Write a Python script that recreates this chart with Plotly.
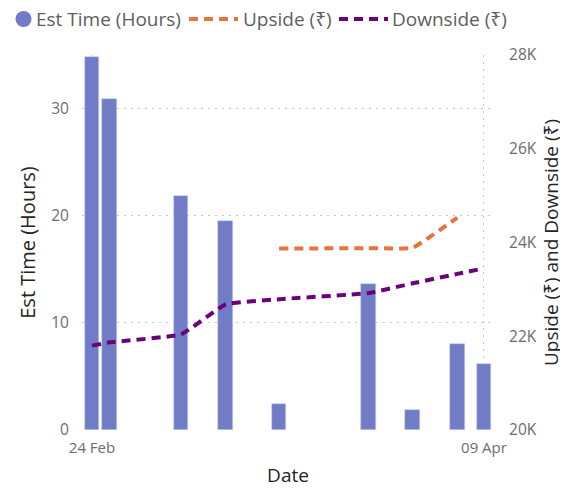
import plotly.graph_objects as go

dates = ["2023-02-24", "2023-02-26", "2023-03-06", "2023-03-11", "2023-03-17",
         "2023-03-27", "2023-04-01", "2023-04-06", "2023-04-09"]
est_hours = [34.8, 30.9, 21.8, 19.5, 2.4, 13.6, 1.9, 8.0, 6.2]

upside_dates = ["2023-03-17", "2023-03-27", "2023-04-01", "2023-04-06"]
upside = [23870, 23880, 23890, 24530]

downside = [21800, 21870, 22040, 22680, 22790, 22920, 23130, 23330, 23450]

x_tick_vals = ["2023-02-24", "2023-04-09"]
x_tick_text = ["24 Feb", "09 Apr"]
y_tick_vals = [0, 10, 20, 30]
y2_tick_vals = [20000, 22000, 24000, 26000, 28000]
y2_tick_text = ["20K", "22K", "24K", "26K", "28K"]

series_names = ["Est Time (Hours)", "Upside (₹)", "Downside (₹)"]

BAR = "#717CC6"
ORANGE = "#E8733B"
PURPLE = "#6B007B"
FONT = "Segoe UI, Open Sans, Noto Sans, sans-serif"
TICK = "#6E6C6A"
LEG = "#605E5C"
TITLE = "#252423"
GRID = "#C8C6C4"
DOT = "2px,5px"
LDASH = "9px,6px"
CLEAR = "rgba(0,0,0,0)"

W, H = 560, 489
ML, MR, MT, MB = 74, 74, 47, 67
PW, PH = W - ML - MR, H - MT - MB


def px(fx):
    return (fx - ML) / PW


def py(fy):
    return (H - MB - fy) / PH


fig = go.Figure()
fig.add_trace(go.Bar(x=dates, y=est_hours, marker=dict(color=BAR, line=dict(color="#C9CDEA", width=0.6)),
                     width=1.65 * 86400000, name=series_names[0]))
fig.add_trace(go.Scatter(x=upside_dates, y=upside, mode="lines", name=series_names[1], yaxis="y2",
                         line=dict(color=ORANGE, width=4, dash=LDASH, shape="spline", smoothing=0.3)))
fig.add_trace(go.Scatter(x=dates, y=downside, mode="lines", name=series_names[2], yaxis="y2",
                         line=dict(color=PURPLE, width=4, dash=LDASH, shape="spline", smoothing=0.3)))

# custom single-row legend, as in the reference
LY = 11
shapes = [
    dict(type="circle", xref="paper", yref="paper", x0=px(7.5), x1=px(23.5), y0=py(LY + 8), y1=py(LY - 8),
         fillcolor=BAR, line=dict(width=0)),
    dict(type="line", xref="paper", yref="paper", x0=px(181), x1=px(230), y0=py(LY), y1=py(LY),
         line=dict(color=ORANGE, width=4, dash=LDASH)),
    dict(type="line", xref="paper", yref="paper", x0=px(331), x1=px(380), y0=py(LY), y1=py(LY),
         line=dict(color=PURPLE, width=4, dash=LDASH)),
]

annotations = []
for name, fx in zip(series_names, [26, 233, 382]):
    annotations.append(dict(text=name, xref="paper", yref="paper", x=px(fx), y=py(LY),
                            xanchor="left", yanchor="middle", showarrow=False,
                            font=dict(size=19, color=LEG)))

fig.update_layout(
    width=W, height=H,
    margin=dict(l=ML, r=MR, t=MT, b=MB, autoexpand=False),
    paper_bgcolor="white", plot_bgcolor="white",
    font=dict(family=FONT, color=TICK, size=15),
    showlegend=False,
    shapes=shapes,
    annotations=annotations,
    xaxis=dict(
        type="date",
        range=["2023-02-22 21:00", "2023-04-10 03:00"],
        tickvals=x_tick_vals, ticktext=x_tick_text,
        showgrid=True, gridcolor=GRID, griddash=DOT, gridwidth=1,
        showline=False, zeroline=False, ticks="outside", ticklen=4, tickcolor=CLEAR,
        automargin=False,
        tickfont=dict(size=15, color=TICK),
        title=dict(text="Date", font=dict(size=19, color=TITLE), standoff=12),
    ),
    yaxis=dict(
        range=[0, 35], tickvals=y_tick_vals,
        showgrid=True, gridcolor=GRID, griddash=DOT, gridwidth=1,
        zeroline=False, showline=False, ticks="outside", ticklen=9, tickcolor=CLEAR,
        automargin=False,
        tickfont=dict(size=15.5, color=TICK),
        title=dict(text="Est Time (Hours)", font=dict(size=20, color=TITLE), standoff=10),
    ),
    yaxis2=dict(
        overlaying="y", side="right", range=[20000, 28000],
        tickvals=y2_tick_vals, ticktext=y2_tick_text,
        showgrid=False, zeroline=False, showline=False, ticks="outside", ticklen=11, tickcolor=CLEAR,
        automargin=False,
        tickfont=dict(size=15.5, color=TICK),
        title=dict(text="Upside (₹) and Downside (₹)", font=dict(size=19, color=TITLE), standoff=8),
    ),
    bargap=0,
)

fig.write_html("out.html")
